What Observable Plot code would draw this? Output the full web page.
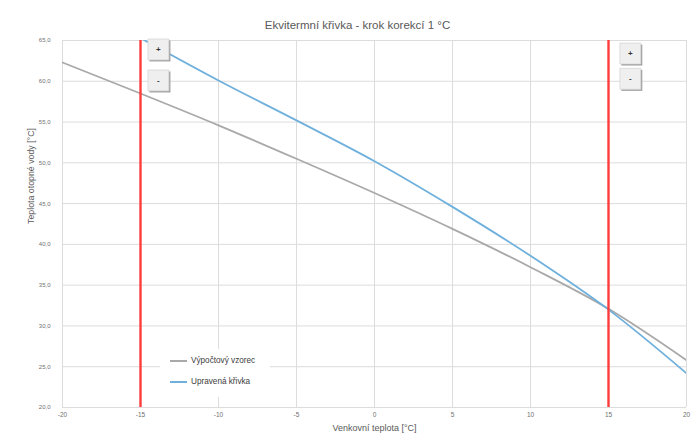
<!DOCTYPE html>
<html><head><meta charset="utf-8">
<script src="https://cdn.jsdelivr.net/npm/d3@7"></script>
<script src="https://cdn.jsdelivr.net/npm/@observablehq/plot@0.6"></script>
<style>
body{margin:0;background:#fff;font-family:"Liberation Sans",Arial,sans-serif}
#wrap{position:relative;width:698px;height:434px;overflow:hidden}
.legend{position:absolute;left:160px;top:349px;width:110px;height:48px;background:#fff;font-size:8.2px;color:#404040}
.legend .row{position:absolute;left:10px;display:flex;align-items:center;white-space:nowrap}
.legend .sw{width:17px;height:2px;margin-right:4px}
</style></head><body><div id="wrap"></div>
<script>
const chartTitle = "Ekvitermní křivka - krok korekcí 1 °C";
const xAxisTitle = "Venkovní teplota [°C]";
const yAxisTitle = "Teplota otopné vody [°C]";
const seriesNames = ["Výpočtový vzorec", "Upravená křivka"];
const seriesColors = ["#a9a9a9", "#6fb0dc"];
const outdoorTemps = [-20, -15, -10, -5, 0, 5, 10, 15, 20];
const formulaValues = [62.3, 58.5, 54.6, 50.5, 46.3, 41.9, 37.2, 32.1, 25.8];
const adjustedTemps = [-15, -10, -5, 0, 5, 10, 15, 20];
const adjustedValues = [65.3, 60.1, 55.2, 50.2, 44.6, 38.6, 32.0, 24.2];
const limitTemps = [-15, 15];
const xTicks = [-20, -15, -10, -5, 0, 5, 10, 15, 20];
const yTicks = [20, 25, 30, 35, 40, 45, 50, 55, 60, 65];
const buttonX = [-13.85, -13.85, 16.4, 16.4];
const buttonY = [63.9, 60.1, 63.4, 60.3];
const buttonLabels = ["+", "-", "+", "-"];

const formula = outdoorTemps.map((t, i) => ({t, v: formulaValues[i]}));
const adjusted = adjustedTemps.map((t, i) => ({t, v: adjustedValues[i]}));
const buttons = buttonX.map((x, i) => ({x, y: buttonY[i], label: buttonLabels[i]}));

const plot = Plot.plot({
  width: 698,
  height: 434,
  marginLeft: 62,
  marginRight: 12,
  marginTop: 40,
  marginBottom: 27,
  style: {fontFamily: "Liberation Sans, Arial, sans-serif", background: "#fff"},
  x: {domain: [-20, 20]},
  y: {domain: [20, 65]},
  marks: [
    Plot.gridX(xTicks, {stroke: "#dcdcdc", strokeOpacity: 1}),
    Plot.gridY(yTicks, {stroke: "#dcdcdc", strokeOpacity: 1}),
    Plot.axisY(yTicks, {tickSize: 0, tickPadding: 12, fontSize: 6, fill: "#707070", label: null,
      tickFormat: d => d.toFixed(1).replace(".", ",")}),
    Plot.axisX(xTicks, {tickSize: 0, tickPadding: 5, fontSize: 6.5, fill: "#707070", label: null,
      tickFormat: d => String(d)}),
    Plot.line(formula, {x: "t", y: "v", stroke: seriesColors[0], strokeWidth: 1.8, curve: "monotone-x", clip: true}),
    Plot.line(adjusted, {x: "t", y: "v", stroke: seriesColors[1], strokeWidth: 1.8, curve: "monotone-x", clip: true}),
    Plot.ruleX(limitTemps, {stroke: "#ff3c3c", strokeWidth: 2.4}),
    Plot.dot(buttons, {x: "x", y: "y", symbol: "square", r: 11.8, fill: "#9a9a9a", dx: 1.5, dy: 1.5}),
    Plot.dot(buttons, {x: "x", y: "y", symbol: "square", r: 11.8, fill: "#efefef", stroke: "#d6d6d6", strokeWidth: 0.8}),
    Plot.text(buttons, {x: "x", y: "y", text: "label", fontSize: 8, fill: "#333", fontWeight: "bold"}),
    Plot.text([chartTitle], {frameAnchor: "top", dx: -17, dy: -20, fontSize: 11.5, fill: "#595959"}),
    Plot.text([xAxisTitle], {frameAnchor: "bottom", dy: 23.5, fontSize: 9, fill: "#595959"}),
    Plot.text([yAxisTitle], {frameAnchor: "left", dx: -31, rotate: -90, fontSize: 8.8, fill: "#595959"})
  ]
});
const wrap = document.getElementById("wrap");
wrap.appendChild(plot);

const legend = document.createElement("div");
legend.className = "legend";
seriesNames.forEach((name, i) => {
  const row = document.createElement("div");
  row.className = "row";
  row.style.top = (7 + i * 21) + "px";
  const sw = document.createElement("span");
  sw.className = "sw";
  sw.style.background = seriesColors[i];
  const lab = document.createElement("span");
  lab.textContent = name;
  row.appendChild(sw); row.appendChild(lab);
  legend.appendChild(row);
});
wrap.appendChild(legend);
</script></body></html>
